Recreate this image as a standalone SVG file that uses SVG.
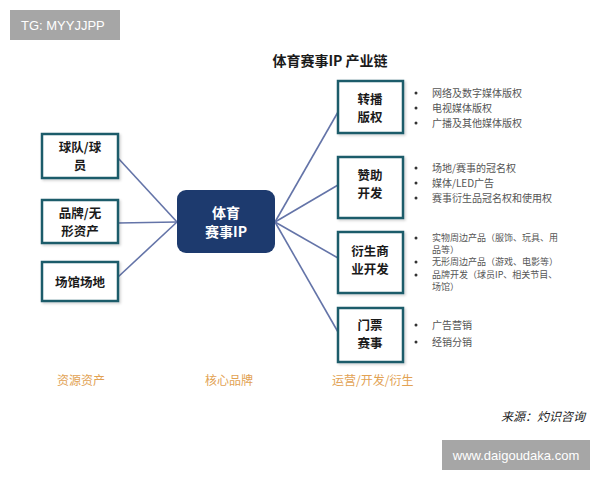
<svg xmlns="http://www.w3.org/2000/svg" width="600" height="480" viewBox="0 0 600 480">
<defs>
<style>
.box{fill:#ffffff;stroke:#1f5c6b;stroke-width:2.5}
.lbl{font-family:"Noto Sans CJK SC","Liberation Sans",sans-serif;font-size:12.5px;font-weight:bold;fill:#1a1a1a;text-anchor:middle}
.core{font-family:"Noto Sans CJK SC","Liberation Sans",sans-serif;font-size:14px;font-weight:bold;fill:#ffffff;text-anchor:middle}
.bul{font-family:"Noto Sans CJK SC","Liberation Sans",sans-serif;font-size:10px;fill:#555555}
.bs{font-size:9px}
.dot{fill:#333333}
.cat{font-family:"Noto Sans CJK SC","Liberation Sans",sans-serif;font-size:12px;fill:#e2a253}
.wm{font-family:"Liberation Sans","DejaVu Sans",sans-serif;font-size:13px;fill:#ffffff}
#connectors line{stroke:#6474a8;stroke-width:1.6}
</style>
<filter id="sh" x="-10%" y="-10%" width="130%" height="130%">
<feDropShadow dx="1.5" dy="1.5" stdDeviation="1.2" flood-color="#000000" flood-opacity="0.18"/>
</filter>
</defs>
<rect width="600" height="480" fill="#ffffff"/>

<g id="watermark-top">
<rect x="10" y="10" width="110" height="30" fill="#a6a6a6"/>
<text class="wm" x="21" y="30">TG: MYYJJPP</text>
</g>

<text x="330" y="66" font-family="'Noto Sans CJK SC','Liberation Sans',sans-serif" font-size="14" font-weight="bold" fill="#1a1a1a" text-anchor="middle">体育赛事IP 产业链</text>

<g id="connectors">
<line x1="118" y1="158" x2="177" y2="222"/>
<line x1="118" y1="223" x2="177" y2="222"/>
<line x1="118" y1="277" x2="177" y2="222"/>
<line x1="275" y1="222" x2="338" y2="112"/>
<line x1="275" y1="222" x2="338" y2="185"/>
<line x1="275" y1="222" x2="338" y2="258"/>
<line x1="275" y1="222" x2="338" y2="332"/>
</g>

<g id="team">
<rect class="box" x="42" y="134" width="76" height="44" filter="url(#sh)"/>
<text class="lbl" x="80" y="152">球队/球</text>
<text class="lbl" x="80" y="170">员</text>
</g>
<g id="brand">
<rect class="box" x="42" y="200" width="76" height="43" filter="url(#sh)"/>
<text class="lbl" x="80" y="218">品牌/无</text>
<text class="lbl" x="80" y="236">形资产</text>
</g>
<g id="venue">
<rect class="box" x="42" y="262" width="76" height="39" filter="url(#sh)"/>
<text class="lbl" x="80" y="287">场馆场地</text>
</g>

<g id="core">
<rect x="177" y="190" width="98" height="63" rx="9" fill="#1d3a6e"/>
<text class="core" x="226" y="218">体育</text>
<text class="core" x="226" y="237">赛事IP</text>
</g>

<g id="broadcast">
<rect class="box" x="338" y="81" width="65" height="52" filter="url(#sh)"/>
<text class="lbl" x="370" y="104">转播</text>
<text class="lbl" x="370" y="122">版权</text>
<circle class="dot" cx="416" cy="93" r="1.5"/>
<circle class="dot" cx="416" cy="108" r="1.5"/>
<circle class="dot" cx="416" cy="123" r="1.5"/>
<text class="bul" x="432" y="97">网络及数字媒体版权</text>
<text class="bul" x="432" y="112">电视媒体版权</text>
<text class="bul" x="432" y="127">广播及其他媒体版权</text>
</g>

<g id="sponsor">
<rect class="box" x="338" y="157" width="65" height="61" filter="url(#sh)"/>
<text class="lbl" x="370" y="180">赞助</text>
<text class="lbl" x="370" y="198">开发</text>
<circle class="dot" cx="416" cy="168" r="1.5"/>
<circle class="dot" cx="416" cy="183" r="1.5"/>
<circle class="dot" cx="416" cy="198" r="1.5"/>
<text class="bul" x="432" y="172">场地/赛事的冠名权</text>
<text class="bul" x="432" y="187">媒体/LED广告</text>
<text class="bul" x="432" y="202">赛事衍生品冠名权和使用权</text>
</g>

<g id="derivative">
<rect class="box" x="338" y="232" width="65" height="61" filter="url(#sh)"/>
<text class="lbl" x="370" y="256">衍生商</text>
<text class="lbl" x="370" y="274">业开发</text>
<circle class="dot" cx="416" cy="238" r="1.5"/>
<circle class="dot" cx="416" cy="262" r="1.5"/>
<circle class="dot" cx="416" cy="275" r="1.5"/>
<text class="bul bs" x="432" y="241">实物周边产品（服饰、玩具、用</text>
<text class="bul bs" x="432" y="253">品等）</text>
<text class="bul bs" x="432" y="265">无形周边产品（游戏、电影等）</text>
<text class="bul bs" x="432" y="278">品牌开发（球员IP、相关节目、</text>
<text class="bul bs" x="432" y="290">场馆）</text>
</g>

<g id="ticket">
<rect class="box" x="338" y="308" width="65" height="54" filter="url(#sh)"/>
<text class="lbl" x="370" y="330">门票</text>
<text class="lbl" x="370" y="348">赛事</text>
<circle class="dot" cx="416" cy="325" r="1.5"/>
<circle class="dot" cx="416" cy="342" r="1.5"/>
<text class="bul" x="432" y="329">广告营销</text>
<text class="bul" x="432" y="346">经销分销</text>
</g>

<text class="cat" x="57" y="385">资源资产</text>
<text class="cat" x="205" y="385">核心品牌</text>
<text class="cat" x="332" y="385">运营/开发/衍生</text>

<text x="585" y="421" font-family="'Noto Sans CJK SC','Liberation Serif',serif" font-size="12" font-style="italic" fill="#222222" text-anchor="end">来源：灼识咨询</text>

<g id="watermark-bottom">
<rect x="442" y="440" width="148" height="30" fill="#a6a6a6"/>
<text class="wm" x="516" y="460" text-anchor="middle">www.daigoudaka.com</text>
</g>
</svg>
